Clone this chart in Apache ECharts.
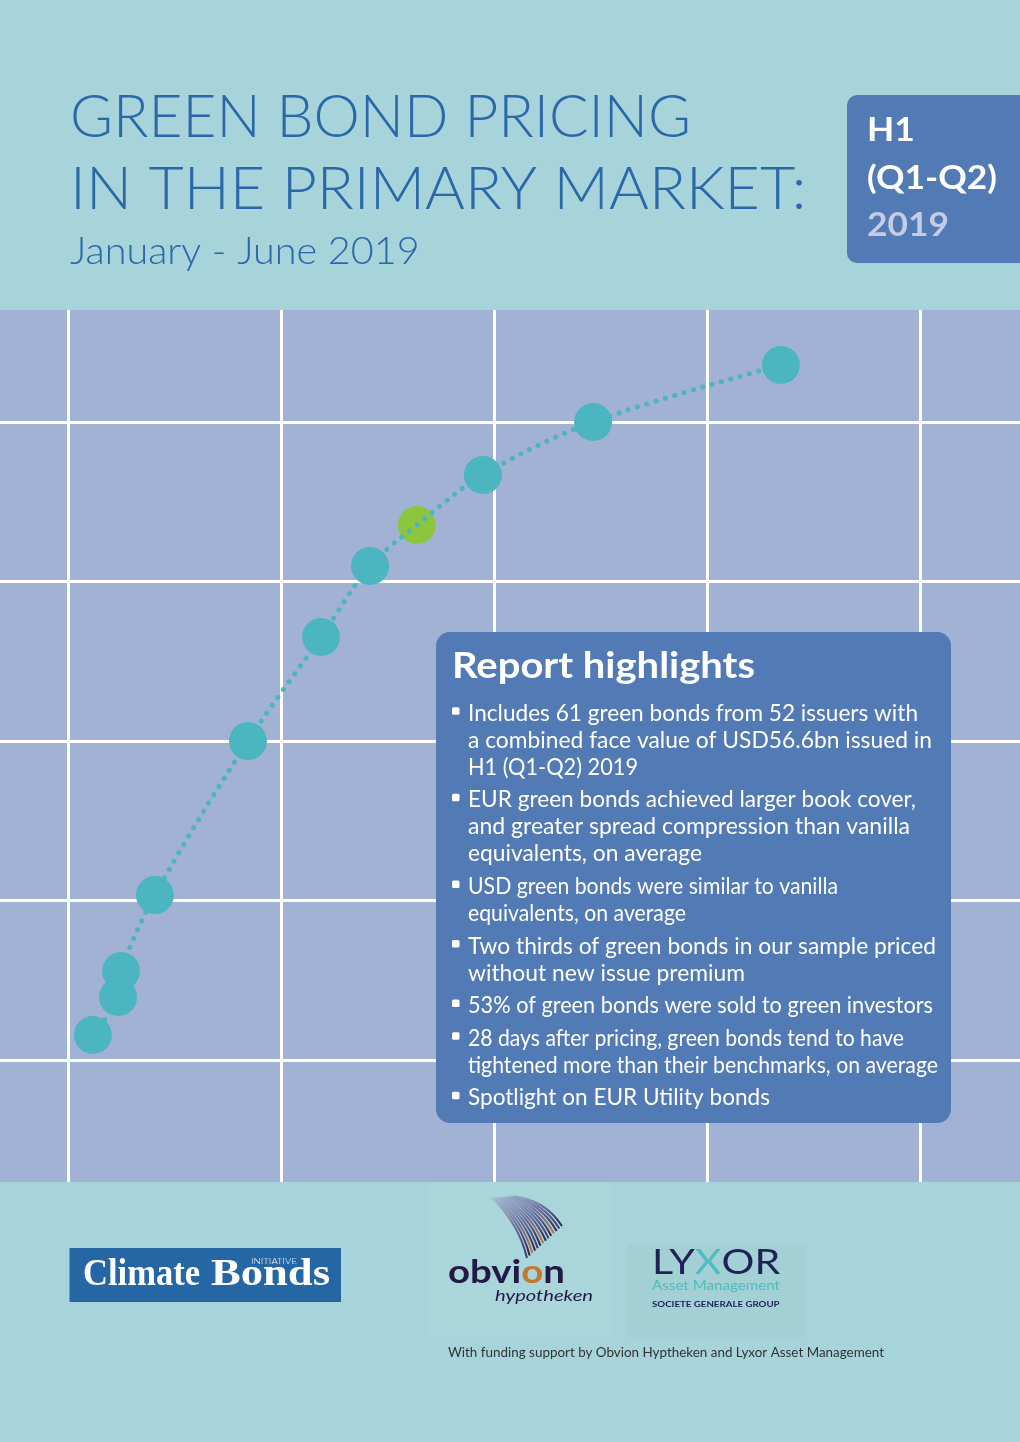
<!DOCTYPE html>
<html><head><meta charset="utf-8">
<script src="https://cdn.jsdelivr.net/npm/echarts@6/dist/echarts.min.js"></script>
<style>html,body{margin:0;padding:0;background:#A6D4DA}#c{width:1020px;height:1442px}</style>
</head><body><div id="c"></div>
<script>
// ---- data (grid-cell units) ----
const bondX = [0.117, 0.235, 0.249, 0.408, 0.845, 1.188, 1.418, 1.638, 1.948, 2.465, 3.347];
const bondY = [0.157, 0.395, 0.558, 1.034, 2.000, 2.652, 3.097, 3.354, 3.668, 4.000, 4.357];
const highlightIndex = 7;

const titleLines = ['GREEN BOND PRICING', 'IN THE PRIMARY MARKET:'];
const subtitle = 'January - June 2019';
const badgeLines = ['H1', '(Q1-Q2)', '2019'];
const highlightsTitle = 'Report highlights';
const highlights = [
  ['Includes 61 green bonds from 52 issuers with', 'a combined face value of USD56.6bn issued in', 'H1 (Q1-Q2) 2019'],
  ['EUR green bonds achieved larger book cover,', 'and greater spread compression than vanilla', 'equivalents, on average'],
  ['USD green bonds were similar to vanilla', 'equivalents, on average'],
  ['Two thirds of green bonds in our sample priced', 'without new issue premium'],
  ['53% of green bonds were sold to green investors'],
  ['28 days after pricing, green bonds tend to have', 'tightened more than their benchmarks, on average'],
  ['Spotlight on EUR Utility bonds']
];
const footnote = 'With funding support by Obvion Hyptheken and Lyxor Asset Management';

// ---- layout (pixel right edges of each highlight line, in reading order) ----
const hlLineRight = [918, 932, 638, 916, 910, 702, 838, 686, 936, 745, 933, 904, 938, 770];

// ---- helpers ----
const mctx = document.createElement('canvas').getContext('2d');
function textW(t, font) { mctx.font = font; return mctx.measureText(t).width; }
const K = 0.36;
function txt(x, baseline, text, size, weight, family, fill, targetW, extra) {
  const font = (extra && extra.italic ? 'italic ' : '') + weight + ' ' + size + 'px ' + family;
  const plain = extra && extra.plain ? extra.plain : text;
  const sx = targetW ? targetW / textW(plain, font) : 1;
  const k = extra && extra.k !== undefined ? extra.k : K;
  const el = {
    type: 'text', x: x, y: baseline - k * size, scaleX: sx, z: 20, silent: true,
    style: { text: text, font: font, fill: fill, textAlign: 'left', textVerticalAlign: 'middle', align: 'left', verticalAlign: 'middle' }
  };
  if (extra && extra.rich) el.style.rich = extra.rich;
  return el;
}

const TITLE = '#2C67A7', BOX = '#527AB4', TEAL = '#4BB5C0', GREEN = '#8CC63F';
const LATO = 'Lato, "Open Sans", sans-serif';
const SERIF = '"Liberation Serif", "DejaVu Serif", serif';

const g = [];
// backgrounds
g.push({ type: 'rect', z: -5, silent: true, shape: { x: 0, y: 310, width: 1020, height: 872 }, style: { fill: '#A2B2D4' } });
g.push({ type: 'rect', z: -5, silent: true, shape: { x: 428, y: 1182, width: 184, height: 155 }, style: { fill: 'rgba(255,255,255,0.035)' } });
g.push({ type: 'rect', z: -5, silent: true, shape: { x: 627, y: 1245, width: 180, height: 92 }, style: { fill: 'rgba(0,40,60,0.025)' } });

// title
g.push(txt(70, 139.5, titleLines[0], 59, 300, LATO, TITLE, 621));
g.push(txt(70, 211.5, titleLines[1], 59, 300, LATO, TITLE, 736.5));
g.push(txt(70, 265.7, subtitle, 38, 300, LATO, TITLE, 349.6));

// badge
g.push({ type: 'rect', z: 10, silent: true, shape: { x: 847, y: 95, width: 190, height: 168, r: 10 }, style: { fill: BOX } });
const badgeFont = '700 33px ' + LATO;
const bsx = 130 / textW(badgeLines[1], badgeFont);
g.push(txt(867, 142, badgeLines[0], 33, 700, LATO, '#FFFFFF', textW(badgeLines[0], badgeFont) * bsx));
g.push(txt(867, 190, badgeLines[1], 33, 700, LATO, '#FFFFFF', 130));
g.push(txt(867, 237, badgeLines[2], 33, 700, LATO, '#C5CCE6', textW(badgeLines[2], badgeFont) * bsx));

// highlights box
g.push({ type: 'rect', z: 10, silent: true, shape: { x: 436, y: 632, width: 515, height: 491, r: 14 }, style: { fill: BOX } });
g.push(txt(452, 679, highlightsTitle, 37, 700, LATO, '#FFFFFF', 303));
let base = 721.7, lineNo = 0;
highlights.forEach(function (item, bi) {
  if (bi > 0) base += 32.6;
  g.push({ type: 'rect', z: 21, silent: true, shape: { x: 452, y: base - 14.5, width: 7.5, height: 7.5, r: 1.5 }, style: { fill: '#FFFFFF' } });
  item.forEach(function (line, li) {
    if (li > 0) base += 27;
    g.push(txt(468, base, line, 23, 400, LATO, '#FFFFFF', hlLineRight[lineNo] - 468));
    lineNo++;
  });
});

// Climate Bonds logo
g.push({ type: 'rect', z: 10, silent: true, shape: { x: 69.5, y: 1248, width: 271.5, height: 54 }, style: { fill: '#2566A5' } });
g.push(txt(83, 1288, 'Climate', 38, 700, SERIF, '#FFFFFF', 117, { k: 0.34 }));
g.push(txt(211, 1288, 'Bonds', 38, 700, SERIF, '#FFFFFF', 119, { k: 0.34 }));
g.push(txt(251, 1264.5, 'INITIATIVE', 8, 300, LATO, '#FFFFFF', 46));

// obvion swoosh (decorative)
for (let i = 0; i < 14; i++) {
  const u = i / 13;
  const sx0 = 492 + 22 * u, sy0 = 1198 - 2 * u;
  const ex = 527 + 35 * u, ey = 1258 - 32 * u;
  const cx = (sx0 + ex) / 2 + 9 - 2 * u, cy = (sy0 + ey) / 2 - 5 - 6 * u;
  const endCol = (i % 4 === 2) ? '#C4782E' : (i % 4 === 0 ? '#35306E' : '#24183F');
  g.push({
    type: 'bezierCurve', z: 12, silent: true,
    shape: { x1: sx0, y1: sy0, x2: ex, y2: ey, cpx1: cx, cpy1: cy },
    style: {
      fill: null, lineWidth: 2,
      stroke: { type: 'linear', x: 0, y: 0, x2: 1, y2: 1, colorStops: [
        { offset: 0, color: 'rgba(130,115,170,0.12)' },
        { offset: 0.5, color: 'rgba(85,70,130,0.7)' },
        { offset: 1, color: endCol }] }
    }
  });
}
g.push(txt(448, 1284.3, '{n|obvi}{o|o}{n|n}', 32, 700, LATO, '#221A45', 117,
  { plain: 'obvion', rich: { n: { fill: '#221A45' }, o: { fill: '#C4782E' } } }));
g.push(txt(495, 1302, 'hypotheken', 16, 400, LATO, '#221A45', 98, { italic: true }));

// Lyxor logo
g.push(txt(652, 1275, '{n|LY}{x|X}{n|OR}', 35, 400, LATO, '#1F2255', 127,
  { plain: 'LYXOR', rich: { n: { fill: '#1F2255' }, x: { fill: '#4DBDC0' } } }));
g.push(txt(652, 1291, 'Asset Management', 14, 400, LATO, '#4DBDC0', 128));
g.push(txt(652, 1307.7, 'SOCIETE GENERALE GROUP', 7, 700, LATO, '#1F2255', 127.6));

// footnote
g.push(txt(448, 1357, footnote, 13, 400, LATO, '#333333', 436));

const hidden = { show: false };
const option = {
  backgroundColor: '#A6D4DA',
  animation: false,
  grid: [
    { left: 0, right: 0, top: 422, height: 638 },
    { left: 68, width: 852, top: 310, height: 872 }
  ],
  xAxis: [
    { gridIndex: 0, type: 'value', min: -0.3192, max: 4.4695, axisLine: hidden, axisTick: hidden, axisLabel: hidden, splitLine: hidden },
    { gridIndex: 1, type: 'value', min: 0, max: 4, interval: 1, z: 1, axisLine: hidden, axisTick: hidden, axisLabel: hidden,
      splitLine: { show: true, lineStyle: { color: '#FFFFFF', width: 3 } } }
  ],
  yAxis: [
    { gridIndex: 0, type: 'value', min: 0, max: 4, interval: 1, z: 1, axisLine: hidden, axisTick: hidden, axisLabel: hidden,
      splitLine: { show: true, lineStyle: { color: '#FFFFFF', width: 3 } } },
    { gridIndex: 1, type: 'value', min: 0, max: 1, axisLine: hidden, axisTick: hidden, axisLabel: hidden, splitLine: hidden }
  ],
  series: [
    { type: 'scatter', xAxisIndex: 0, yAxisIndex: 0, z: 3, clip: false, symbolSize: 38, silent: true,
      itemStyle: { color: TEAL, opacity: 1 },
      data: bondX.map(function (x, i) { return [x, bondY[i]]; }).filter(function (_, i) { return i !== highlightIndex; }) },
    { type: 'scatter', xAxisIndex: 0, yAxisIndex: 0, z: 3, clip: false, symbolSize: 38, silent: true,
      itemStyle: { color: GREEN, opacity: 1 },
      data: [[bondX[highlightIndex], bondY[highlightIndex]]] },
    { type: 'line', xAxisIndex: 0, yAxisIndex: 0, z: 4, clip: false, smooth: 0.35, showSymbol: false, symbol: 'none', silent: true,
      lineStyle: { color: TEAL, width: 5, type: [0.1, 9.6], cap: 'round' },
      data: bondX.map(function (x, i) { return [x, bondY[i]]; }) }
  ],
  graphic: { elements: g }
};
const chart = echarts.init(document.getElementById('c'), null, { renderer: 'canvas' });
chart.setOption(option);
</script>
</body></html>
